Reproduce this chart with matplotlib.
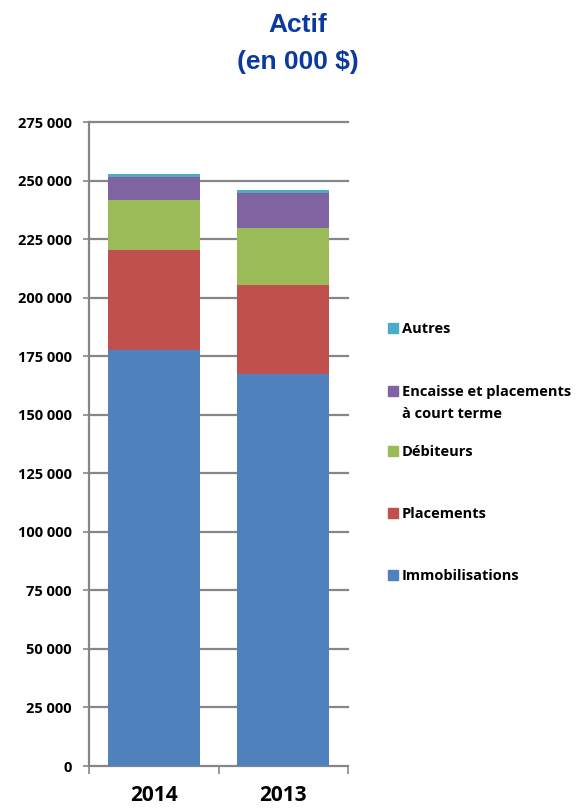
import numpy as np
import matplotlib.pyplot as plt
from matplotlib.patches import Rectangle
from matplotlib.ticker import FuncFormatter

years = ['2014', '2013']
series = ['Immobilisations', 'Placements', 'Débiteurs',
          'Encaisse et placements\nà court terme', 'Autres']
immobilisations = [177500, 167400]
placements = [43000, 38100]
debiteurs = [21400, 24400]
encaisse = [9600, 14800]
autres = [1300, 1300]
colors = ['#4F81BD', '#C0504D', '#9BBB59', '#8064A2', '#4BACC6']

values = [immobilisations, placements, debiteurs, encaisse, autres]
lab_font = 'Open Sans'

fig = plt.figure(figsize=(5.83, 8.10), dpi=100)
ax = fig.add_axes([89 / 583, 44 / 810, 259 / 583, 644 / 810])

x = np.arange(len(years))
bottom = np.zeros(len(years))
for vals, col in zip(values, colors):
    ax.bar(x, vals, width=0.71, bottom=bottom, color=col, zorder=3)
    bottom += np.array(vals)

gray = '#868686'
ax.set_xlim(-0.5, 1.5)
ax.set_ylim(0, 275000)
ax.set_yticks(np.arange(0, 275001, 25000))
ax.yaxis.set_major_formatter(FuncFormatter(lambda v, p: f'{int(v):,}'.replace(',', ' ')))
for t in np.arange(25000, 275001, 25000):
    ax.axhline(t, color=gray, lw=1.6, zorder=1, clip_on=False)

for s in ['top', 'right']:
    ax.spines[s].set_visible(False)
for s in ['left', 'bottom']:
    ax.spines[s].set_color(gray)
    ax.spines[s].set_linewidth(1.6)

ax.tick_params(axis='y', length=4.5, width=1.2, color=gray, pad=8,
               labelsize=10.5)
for lab in ax.get_yticklabels():
    lab.set_fontweight('bold')
    lab.set_family(lab_font)

ax.set_xticks([-0.5, 0.5, 1.5])
ax.set_xticklabels([])
ax.tick_params(axis='x', which='major', length=6, width=1.2, color=gray)
ax.set_xticks(x, minor=True)
ax.set_xticklabels(years, minor=True, fontsize=15, fontweight='bold', family=lab_font)
ax.tick_params(axis='x', which='minor', length=0, pad=14)

fig.text(298 / 583, 1 - 25 / 810, 'Actif', ha='center', va='center',
         fontsize=19, fontweight='bold', color='#0B3A9E', family='Liberation Sans')
fig.text(298 / 583, 1 - 62 / 810, '(en 000 $)', ha='center', va='center',
         fontsize=19, fontweight='bold', color='#0B3A9E', family='Liberation Sans')

# legend, top entry = last series
leg_y = [575, 513, 451, 391, 328]
for name, col, yy in zip(series, colors, leg_y):
    fig.add_artist(Rectangle((388 / 583, 1 - (yy + 5) / 810), 10 / 583, 10 / 810,
                             transform=fig.transFigure, color=col))
    lines = name.split('\n')
    for i, ln in enumerate(lines):
        fig.text(402 / 583, 1 - (yy + 1 + 22 * i) / 810, ln, ha='left', va='center',
                 fontsize=10.5, fontweight='bold', family=lab_font)

fig.savefig('out.png', dpi=100)
